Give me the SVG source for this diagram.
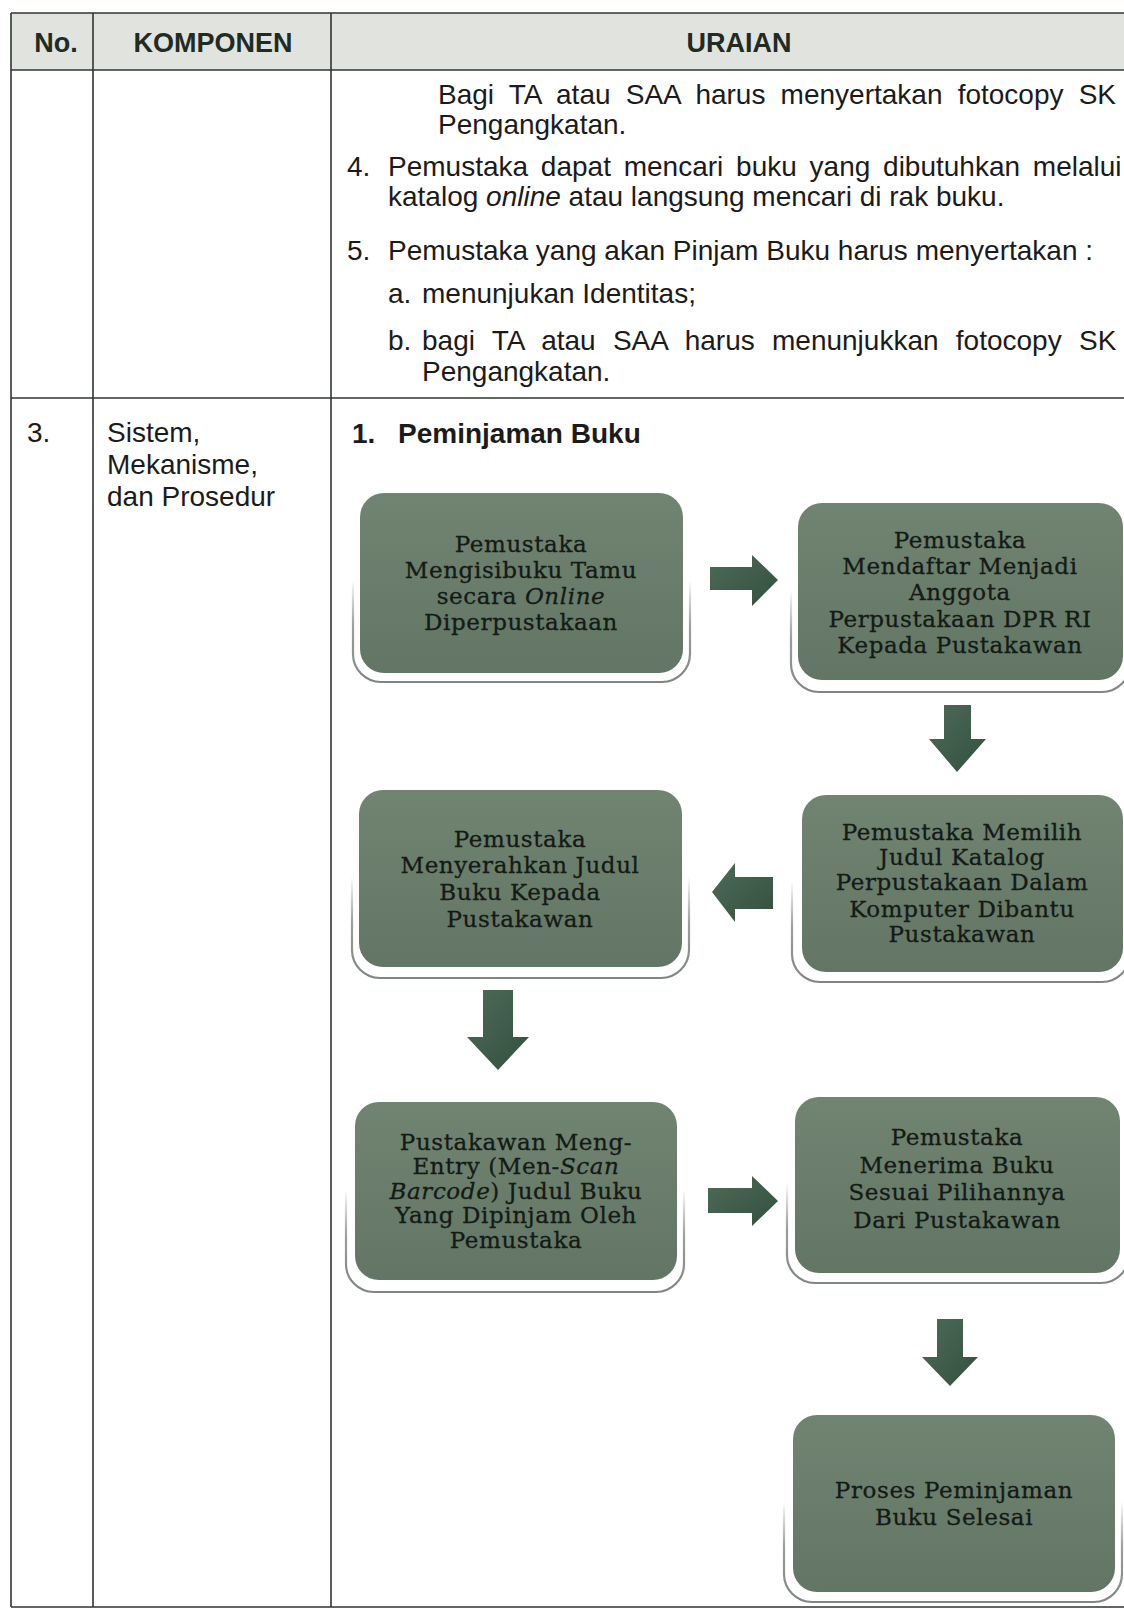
<svg xmlns="http://www.w3.org/2000/svg" width="1124" height="1609" viewBox="0 0 1124 1609">
<style>
.t{font-family:"Liberation Sans",Arial,sans-serif;font-size:28px;fill:#1b1b1b}
.h{font-family:"Liberation Sans",Arial,sans-serif;font-size:27px;font-weight:bold;fill:#1f2b23;text-anchor:middle}
.bd{font-family:"Liberation Sans",Arial,sans-serif;font-size:28px;font-weight:bold;fill:#1b1b1b}
.grid{stroke:#2f3531;stroke-width:1.6;fill:none}
.box{fill:url(#gbox)}
.ol{fill:none;stroke:url(#gol);stroke-width:2.2}
.bt{font-family:"DejaVu Serif","Liberation Serif",serif;font-size:23px;fill:#141a15;stroke:#141a15;stroke-width:0.3px;text-anchor:middle;letter-spacing:0.6px}
.arr{fill:url(#garr)}
.it{font-style:italic}
</style>
<defs>
<linearGradient id="gbox" x1="0" y1="0" x2="0" y2="1">
<stop offset="0" stop-color="#718472"/>
<stop offset="1" stop-color="#637665"/>
</linearGradient>
<linearGradient id="gol" x1="0" y1="0" x2="0" y2="1">
<stop offset="0" stop-color="#8e948f" stop-opacity="0"/>
<stop offset="0.45" stop-color="#8e948f" stop-opacity="0"/>
<stop offset="0.7" stop-color="#9a9f9b" stop-opacity="1"/>
<stop offset="1" stop-color="#7f8580" stop-opacity="1"/>
</linearGradient>
<linearGradient id="garr" x1="0" y1="0" x2="1" y2="1">
<stop offset="0" stop-color="#4c6b57"/>
<stop offset="1" stop-color="#34503f"/>
</linearGradient>
</defs>

<g id="table">
<rect x="11" y="13" width="1113" height="57" fill="#e1e4de"/>
<line class="grid" x1="11" y1="13" x2="1124" y2="13"/>
<line class="grid" x1="11" y1="70" x2="1124" y2="70" stroke-width="2.2"/>
<line class="grid" x1="11" y1="398" x2="1124" y2="398"/>
<line class="grid" x1="11" y1="1607" x2="1124" y2="1607"/>
<line class="grid" x1="11" y1="13" x2="11" y2="1607"/>
<line class="grid" x1="93" y1="13" x2="93" y2="1607"/>
<line class="grid" x1="331" y1="13" x2="331" y2="1607"/>
<text class="h" x="56" y="52">No.</text>
<text class="h" x="213" y="52">KOMPONEN</text>
<text class="h" x="739" y="52">URAIAN</text>

<text class="t" x="438" y="104" word-spacing="7.4">Bagi TA atau SAA harus menyertakan fotocopy SK</text>
<text class="t" x="438" y="134">Pengangkatan.</text>
<text class="t" x="347" y="176">4.</text>
<text class="t" x="388" y="176" word-spacing="5">Pemustaka dapat mencari buku yang dibutuhkan melalui</text>
<text class="t" x="388" y="206">katalog <tspan class="it">online</tspan> atau langsung mencari di rak buku.</text>
<text class="t" x="347" y="260">5.</text>
<text class="t" x="388" y="260">Pemustaka yang akan Pinjam Buku harus menyertakan :</text>
<text class="t" x="388" y="303">a.</text>
<text class="t" x="422" y="303">menunjukan Identitas;</text>
<text class="t" x="388" y="350">b.</text>
<text class="t" x="422" y="350" word-spacing="9.5">bagi TA atau SAA harus menunjukkan fotocopy SK</text>
<text class="t" x="422" y="381">Pengangkatan.</text>

<text class="t" x="27" y="442">3.</text>
<text class="t" x="107" y="442">Sistem,</text>
<text class="t" x="107" y="474">Mekanisme,</text>
<text class="t" x="107" y="506">dan Prosedur</text>
<text class="bd" x="352" y="443">1.</text>
<text class="bd" x="398" y="443">Peminjaman Buku</text>
</g>

<g id="connectors">
<polygon class="arr" points="710,567 752,567 752,555 778,580 752,606 752,590 710,590"/>
<polygon class="arr" points="944,705 971,705 971,739 986,739 957,772 929,739 944,739"/>
<polygon class="arr" points="773,877 735,877 735,863 712,892 735,922 735,909 773,909"/>
<polygon class="arr" points="483,990 513,990 513,1037 529,1037 498,1070 467,1037 483,1037"/>
<polygon class="arr" points="708,1188 752,1188 752,1176 778,1201 752,1226 752,1213 708,1213"/>
<polygon class="arr" points="937,1319 963,1319 963,1357 978,1357 950,1386 922,1357 937,1357"/>
</g>

<g id="node1">
<rect class="ol" x="353" y="497" width="337" height="185" rx="28"/>
<rect class="box" x="360" y="493" width="323" height="180" rx="24"/>
<text class="bt" x="521" y="552">Pemustaka</text>
<text class="bt" x="521" y="578">Mengisibuku Tamu</text>
<text class="bt" x="521" y="604">secara <tspan class="it">Online</tspan></text>
<text class="bt" x="521" y="630">Diperpustakaan</text>
</g>

<g id="node2">
<rect class="ol" x="791" y="507" width="339" height="185" rx="28"/>
<rect class="box" x="798" y="503" width="325" height="177" rx="24"/>
<text class="bt" x="960" y="548">Pemustaka</text>
<text class="bt" x="960" y="574">Mendaftar Menjadi</text>
<text class="bt" x="960" y="600">Anggota</text>
<text class="bt" x="960" y="627">Perpustakaan  DPR RI</text>
<text class="bt" x="960" y="653">Kepada  Pustakawan</text>
</g>

<g id="node3">
<rect class="ol" x="352" y="794" width="337" height="184" rx="28"/>
<rect class="box" x="359" y="790" width="323" height="177" rx="24"/>
<text class="bt" x="520" y="847">Pemustaka</text>
<text class="bt" x="520" y="873">Menyerahkan Judul</text>
<text class="bt" x="520" y="900">Buku Kepada</text>
<text class="bt" x="520" y="927">Pustakawan</text>
</g>

<g id="node4">
<rect class="ol" x="792" y="799" width="338" height="183" rx="28"/>
<rect class="box" x="802" y="795" width="321" height="177" rx="24"/>
<text class="bt" x="962" y="840">Pemustaka  Memilih</text>
<text class="bt" x="962" y="865">Judul  Katalog</text>
<text class="bt" x="962" y="890">Perpustakaan  Dalam</text>
<text class="bt" x="962" y="917">Komputer  Dibantu</text>
<text class="bt" x="962" y="942">Pustakawan</text>
</g>

<g id="node5">
<rect class="ol" x="346" y="1106" width="338" height="186" rx="28"/>
<rect class="box" x="355" y="1102" width="322" height="178" rx="24"/>
<text class="bt" x="516" y="1150">Pustakawan  Meng-</text>
<text class="bt" x="516" y="1174">Entry (Men-<tspan class="it">Scan</tspan></text>
<text class="bt" x="516" y="1199"><tspan class="it">Barcode</tspan>) Judul Buku</text>
<text class="bt" x="516" y="1223">Yang   Dipinjam Oleh</text>
<text class="bt" x="516" y="1248">Pemustaka</text>
</g>

<g id="node6">
<rect class="ol" x="787" y="1101" width="342" height="182" rx="28"/>
<rect class="box" x="795" y="1097" width="325" height="176" rx="24"/>
<text class="bt" x="957" y="1145">Pemustaka</text>
<text class="bt" x="957" y="1173">Menerima  Buku</text>
<text class="bt" x="957" y="1200">Sesuai   Pilihannya</text>
<text class="bt" x="957" y="1228">Dari  Pustakawan</text>
</g>

<g id="node7">
<rect class="ol" x="784" y="1419" width="338" height="183" rx="28"/>
<rect class="box" x="793" y="1415" width="322" height="177" rx="24"/>
<text class="bt" x="954" y="1498">Proses  Peminjaman</text>
<text class="bt" x="954" y="1525">Buku  Selesai</text>
</g>
</svg>
